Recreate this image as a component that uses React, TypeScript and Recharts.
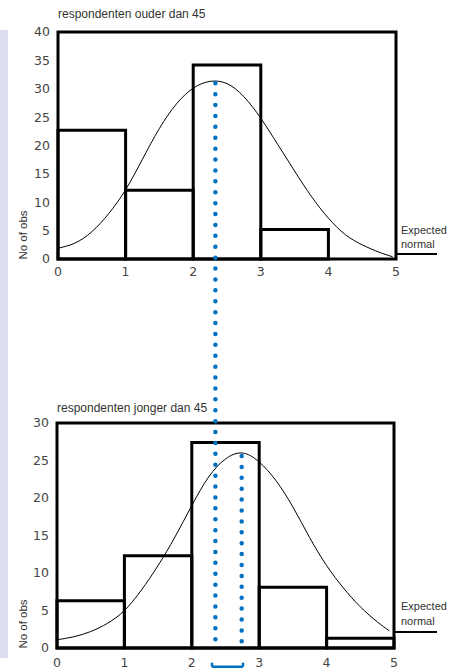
import React from 'react';
import { ComposedChart, Line, XAxis, YAxis, ReferenceArea, ReferenceLine } from 'recharts';

// histogram bins (edges) and counts
const binEdges = [0, 1, 2, 3, 4, 5];
const ouderCounts = [22.7, 12.1, 34.2, 5.2, 0];
const jongerCounts = [6.3, 12.3, 27.4, 8.1, 1.3];

// expected normal curves
const ouderCurveX = [0, 0.25, 0.5, 0.75, 1, 1.25, 1.5, 1.75, 2, 2.25, 2.5, 2.75, 3, 3.25, 3.5, 3.75, 4, 4.25, 4.5, 4.75, 4.95];
const ouderCurveY = [1.9, 2.8, 4.8, 8, 12.2, 17.6, 23, 27.3, 30.1, 31.3, 30.9, 28.6, 24.8, 20.2, 15.5, 11, 7.2, 4.3, 2.5, 1.2, 0.4];
const jongerCurveX = [0, 0.25, 0.5, 0.75, 1, 1.25, 1.5, 1.75, 2, 2.25, 2.5, 2.75, 3, 3.25, 3.5, 3.75, 4, 4.25, 4.5, 4.75, 4.93];
const jongerCurveY = [1.1, 1.5, 2.2, 3.3, 5, 7.7, 11, 14.8, 19, 22.8, 25.2, 26, 24.8, 22.3, 18.8, 14.7, 11, 8, 5.5, 3.5, 2.3];

const xTicks = [0, 1, 2, 3, 4, 5];
const ouderTicks = [0, 5, 10, 15, 20, 25, 30, 35, 40];
const jongerTicks = [0, 5, 10, 15, 20, 25, 30];

// means (blue dotted markers)
const meanOuder = 2.35;
const meanJonger = 2.74;
const jongerPeak = 25.6;
const meanLineReach = 75.3; // top of the long dotted line, in lower-chart units
const bracketY = -2.5;
const bracketTick = -1.95;
const bracketFrom = 2.3;
const bracketTo = 2.76;

const ouderData = ouderCurveX.map((x, i) => ({ x, v: ouderCurveY[i] }));
const jongerData = jongerCurveX.map((x, i) => ({ x, v: jongerCurveY[i] }));

const BLUE = '#0070c0';
const tickStyle = { fontSize: 12.5, fill: '#444', fontFamily: 'DejaVu Sans' };
const smallText: React.CSSProperties = { position: 'absolute', fontFamily: 'Liberation Sans, Arial, sans-serif', color: '#333' };

const dotted = { stroke: BLUE, strokeWidth: 4.5, strokeDasharray: '0 10.9', strokeLinecap: 'round' as const };

const App: React.FC = () => {
  return (
    <div style={{ position: 'absolute', left: 0, top: 0, width: 449, height: 669, background: '#fff' }}>
      <style>{'.recharts-surface{overflow:visible}'}</style>
      {/* lavender strip */}
      <div style={{ position: 'absolute', left: 0, top: 30, width: 8, height: 628, background: '#dddff0' }} />

      {/* upper chart */}
      <div style={{ position: 'absolute', left: 0, top: 0 }}>
        <ComposedChart width={449} height={290} data={ouderData} margin={{ top: 32, right: 53, bottom: 0, left: 0 }}>
          <XAxis dataKey="x" type="number" domain={[0, 5]} ticks={xTicks} axisLine={false} tickLine={false} tickMargin={2} height={31} tick={tickStyle} />
          <YAxis type="number" domain={[0, 40]} ticks={ouderTicks} axisLine={false} tickLine={false} width={58} tick={tickStyle} interval={0} />
          {ouderCounts.map((c, i) => c > 0 && (
            <ReferenceArea key={i} x1={binEdges[i]} x2={binEdges[i + 1]} y1={0} y2={c} fill="none" stroke="#000" strokeWidth={3} />
          ))}
          <ReferenceArea x1={0} x2={5} y1={0} y2={40} fill="none" stroke="#000" strokeWidth={3} />
          <Line dataKey="v" type="natural" stroke="#000" strokeWidth={1} dot={false} isAnimationActive={false} />
        </ComposedChart>
      </div>

      {/* lower chart, full page tall so the mean line can reach up */}
      <div style={{ position: 'absolute', left: 0, top: 0 }}>
        <ComposedChart width={449} height={669} data={jongerData} margin={{ top: 423, right: 55, bottom: 0, left: 0 }}>
          <XAxis dataKey="x" type="number" domain={[0, 5]} ticks={xTicks} axisLine={false} tickLine={false} tickMargin={4} height={21} tick={tickStyle} />
          <YAxis type="number" domain={[0, 30]} ticks={jongerTicks} axisLine={false} tickLine={false} width={57} tick={tickStyle} interval={0} />
          {jongerCounts.map((c, i) => c > 0 && (
            <ReferenceArea key={i} x1={binEdges[i]} x2={binEdges[i + 1]} y1={0} y2={c} fill="none" stroke="#000" strokeWidth={3} />
          ))}
          <ReferenceArea x1={0} x2={5} y1={0} y2={30} fill="none" stroke="#000" strokeWidth={3} />
          <Line dataKey="v" type="natural" stroke="#000" strokeWidth={1} dot={false} isAnimationActive={false} />
          <ReferenceLine ifOverflow="visible" segment={[{ x: meanOuder, y: meanLineReach }, { x: meanOuder, y: 0 }]} {...dotted} />
          <ReferenceLine ifOverflow="visible" segment={[{ x: meanJonger, y: jongerPeak }, { x: meanJonger, y: 0 }]} {...dotted} />
          <ReferenceLine ifOverflow="visible" segment={[{ x: bracketFrom, y: bracketY }, { x: bracketTo, y: bracketY }]} stroke={BLUE} strokeWidth={2.5} />
          <ReferenceLine ifOverflow="visible" segment={[{ x: bracketFrom, y: bracketY }, { x: bracketFrom, y: bracketTick }]} stroke={BLUE} strokeWidth={2.5} />
          <ReferenceLine ifOverflow="visible" segment={[{ x: bracketTo, y: bracketY }, { x: bracketTo, y: bracketTick }]} stroke={BLUE} strokeWidth={2.5} />
        </ComposedChart>
      </div>

      {/* titles */}
      <div style={{ ...smallText, left: 58, top: 7, fontSize: 12, lineHeight: '14px' }}>respondenten ouder dan 45</div>
      <div style={{ ...smallText, left: 57, top: 401, fontSize: 12, lineHeight: '14px' }}>respondenten jonger dan 45</div>

      {/* axis titles */}
      <div style={{ ...smallText, left: 23, top: 235, fontSize: 11.5, whiteSpace: 'nowrap', transform: 'translate(-50%, -50%) rotate(-90deg)' }}>No of obs</div>
      <div style={{ ...smallText, left: 23, top: 624, fontSize: 11.5, whiteSpace: 'nowrap', transform: 'translate(-50%, -50%) rotate(-90deg)' }}>No of obs</div>

      {/* expected normal legends */}
      <div style={{ ...smallText, left: 401, top: 223, fontSize: 11, lineHeight: '14px' }}>Expected<br />normal</div>
      <div style={{ position: 'absolute', left: 397, top: 253, width: 40, height: 2, background: '#000' }} />
      <div style={{ ...smallText, left: 401, top: 599, fontSize: 11, lineHeight: '14.5px' }}>Expected<br />normal</div>
      <div style={{ position: 'absolute', left: 395, top: 631, width: 42, height: 2, background: '#000' }} />
    </div>
  );
};

export default App;
